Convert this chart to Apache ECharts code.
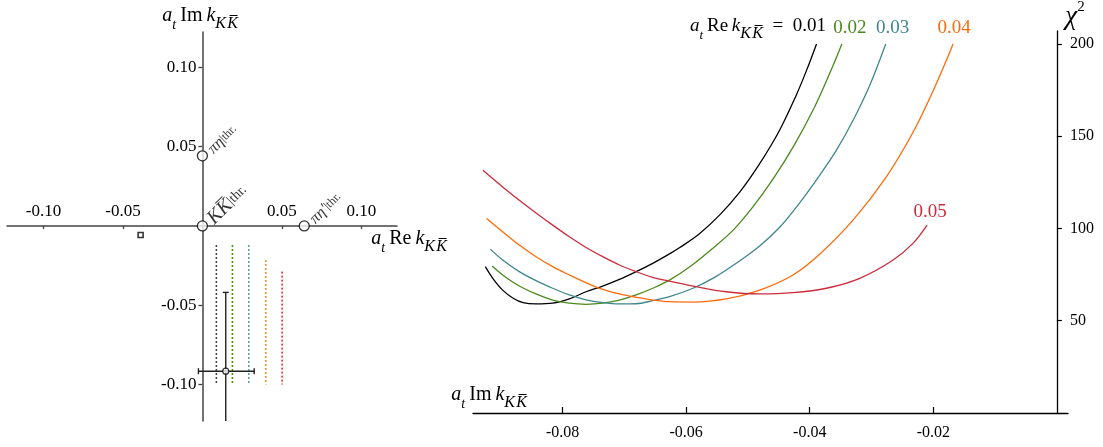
<!DOCTYPE html>
<html><head><meta charset="utf-8">
<script src="https://cdn.jsdelivr.net/npm/echarts@6/dist/echarts.min.js"></script>
<style>html,body{margin:0;padding:0;background:#fff}#c{width:1103px;height:447px}</style>
</head><body><div id="c"></div>
<script>
// ---------- DATA ----------
// Left panel: complex k plane
const thresholdPts = [[0, 0.0442], [0, 0], [0.0641, 0]];
const thresholdNames = ['πη', 'KK\u0305', 'πη′'];
const virtualPt = [[-0.0389, -0.0057]];
const polePt = [0.0147, -0.0916];
const poleErrX = [-0.0025, 0.0326];
const poleErrY = [-0.123, -0.0419];
const reScanX = [0.0088, 0.0189, 0.0292, 0.0399, 0.0502];
const reScanTop = [-0.012, -0.012, -0.012, -0.0215, -0.0288];
const reScanBottom = -0.100;
const leftTicks = [-0.10, -0.05, 0.05, 0.10];

// Right panel: chi^2 vs a_t Im k for fixed a_t Re k
const curveNames = ['0.01', '0.02', '0.03', '0.04', '0.05'];
const chi001 = [[-0.0925,79.3],[-0.0913,73.0],[-0.0897,66.6],[-0.0880,62.2],[-0.0864,59.8],[-0.0843,59.1],[-0.0816,59.5],[-0.0789,61.8],[-0.0762,65.7],[-0.0735,68.8],[-0.0708,72.4],[-0.0681,76.6],[-0.0654,81.1],[-0.0627,86.2],[-0.0611,89.5],[-0.0578,97.3],[-0.0546,107.2],[-0.0513,119.8],[-0.0481,135.1],[-0.0449,153.1],[-0.0422,172.1],[-0.0405,185.8],[-0.0389,200.0]];
const chi002 = [[-0.0914,79.6],[-0.0897,74.8],[-0.0870,68.8],[-0.0843,64.5],[-0.0816,61.2],[-0.0789,59.5],[-0.0762,58.9],[-0.0735,59.5],[-0.0708,61.2],[-0.0681,64.0],[-0.0654,67.6],[-0.0627,72.0],[-0.0589,80.5],[-0.0557,89.2],[-0.0524,99.1],[-0.0492,111.7],[-0.0459,127.0],[-0.0427,144.1],[-0.0395,163.9],[-0.0368,183.8],[-0.0348,200.0]];
const chi003 = [[-0.0917,88.8],[-0.0897,82.9],[-0.0870,76.6],[-0.0843,71.7],[-0.0816,67.6],[-0.0789,64.0],[-0.0762,61.3],[-0.0735,59.8],[-0.0708,59.1],[-0.0681,59.2],[-0.0654,60.9],[-0.0627,63.0],[-0.0589,67.6],[-0.0554,73.5],[-0.0519,81.1],[-0.0481,90.5],[-0.0449,100.5],[-0.0416,114.0],[-0.0384,128.8],[-0.0357,142.3],[-0.0330,158.5],[-0.0303,177.5],[-0.0277,200.0]];
const chi004 = [[-0.0923,105.4],[-0.0897,98.2],[-0.0870,91.0],[-0.0843,84.7],[-0.0816,79.3],[-0.0789,74.8],[-0.0762,70.6],[-0.0735,67.0],[-0.0708,64.5],[-0.0681,62.7],[-0.0654,61.2],[-0.0627,60.3],[-0.0589,60.1],[-0.0535,61.8],[-0.0481,66.6],[-0.0427,74.8],[-0.0384,86.0],[-0.0330,104.5],[-0.0276,128.0],[-0.0233,152.0],[-0.0200,174.8],[-0.0179,191.0],[-0.0168,200.0]];
const chi005 = [[-0.0929,131.5],[-0.0897,122.5],[-0.0870,115.3],[-0.0843,108.4],[-0.0816,101.8],[-0.0789,95.5],[-0.0762,89.7],[-0.0735,84.7],[-0.0708,80.2],[-0.0681,76.6],[-0.0654,73.5],[-0.0627,71.4],[-0.0589,68.8],[-0.0535,65.7],[-0.0481,64.5],[-0.0427,65.2],[-0.0373,67.6],[-0.0319,73.0],[-0.0265,82.9],[-0.0233,91.9],[-0.0210,101.8]];
const rightXTicks = [-0.08, -0.06, -0.04, -0.02];
const rightYTicks = [50, 100, 150, 200];

// ---------- LAYOUT ----------
const L = {left: 7, top: 32, width: 390, height: 389, xMin: -0.123, xMax: 0.1225, yMin: -0.123, yMax: 0.1223};
const R = {left: 473, top: 31, width: 595, height: 382, xMin: -0.0945, xMax: 0.0018, yMin: 0, yMax: 207};
// place axes through the origin (labels follow the axis line)
const leftYOffset = -(0 - L.xMin) / (L.xMax - L.xMin) * L.width;
const leftXOffset = -(0 - L.yMin) / (L.yMax - L.yMin) * L.height;
const rightYOffset = -(R.xMax - 0) / (R.xMax - R.xMin) * R.width;

// ---------- STYLE ----------
const SERIF = '"Liberation Serif", "DejaVu Serif", serif';
const colors = ['#000000', '#4a8a1c', '#3d878c', '#ff6a0a', '#cc2b3b'];
const dotColors = ['#444444', '#3a9a08', '#5a9ea2', '#ff8a30', '#e03040'];
const curves = [chi001, chi002, chi003, chi004, chi005];

function mathRich(fs, sub, subK, lh) {
  return {
    a: {fontFamily: SERIF, fontStyle: 'italic', fontSize: fs, color: '#000', verticalAlign: 'top', lineHeight: fs + 3},
    r: {fontFamily: SERIF, fontSize: fs, color: '#000', verticalAlign: 'top', lineHeight: fs + 3},
    s: {fontFamily: SERIF, fontStyle: 'italic', fontSize: sub, color: '#000', verticalAlign: 'bottom', lineHeight: sub + 1},
    sk: {fontFamily: SERIF, fontStyle: 'italic', fontSize: subK, color: '#000', verticalAlign: 'bottom', lineHeight: subK + 1},
    sp: {fontFamily: SERIF, fontSize: fs, verticalAlign: 'bottom', lineHeight: lh}
  };
}
const rich = mathRich(20, 14, 16, 26);
const KK = 'K\u200aK\u0305';
const titleIm = '{a|a}{s|t}{r|\u2009Im\u2009}{a|k}{sk|' + KK + '}{sp|\u200a}';
const titleRe = '{a|a}{s|t}{r|\u2009Re\u2009}{a|k}{sk|' + KK + '}{sp|\u200a}';

const chart = echarts.init(document.getElementById('c'), null, {renderer: 'canvas'});

const fmt2 = v => (v < 0 ? '-' : '') + Math.abs(v).toFixed(2);

const series = [];
// dotted scan lines
reScanX.forEach((x, i) => {
  series.push({type: 'line', xAxisIndex: 0, yAxisIndex: 0, data: [[x, reScanTop[i]], [x, reScanBottom]],
    showSymbol: false, silent: true, lineStyle: {color: dotColors[i], width: 1.6, type: [2, 2]}, z: 2});
});
// error bars
series.push({type: 'custom', xAxisIndex: 0, yAxisIndex: 0, clip: true, z: 3,
  data: [[polePt[0], polePt[1], poleErrX[0], poleErrX[1], poleErrY[0], poleErrY[1]]],
  renderItem: function (params, api) {
    const x = api.value(0), y = api.value(1);
    const pl = api.coord([api.value(2), y]), ph = api.coord([api.value(3), y]);
    const pb = api.coord([x, api.value(4)]), pt = api.coord([x, api.value(5)]);
    const st = {stroke: '#222', lineWidth: 1.4};
    const cap = 3;
    const Ln = (x1, y1, x2, y2) => ({type: 'line', shape: {x1, y1, x2, y2}, style: st});
    return {type: 'group', children: [
      Ln(pl[0], pl[1], ph[0], ph[1]), Ln(pl[0], pl[1]-cap, pl[0], pl[1]+cap), Ln(ph[0], ph[1]-cap, ph[0], ph[1]+cap),
      Ln(pb[0], pb[1], pt[0], pt[1]), Ln(pt[0]-cap, pt[1], pt[0]+cap, pt[1])
    ]};
  }
});
series.push({type: 'scatter', xAxisIndex: 0, yAxisIndex: 0, data: [polePt], symbol: 'circle', symbolSize: 6,
  itemStyle: {color: '#fff', borderColor: '#000', borderWidth: 1.2}, z: 5});
series.push({type: 'scatter', xAxisIndex: 0, yAxisIndex: 0, data: virtualPt, symbol: 'rect', symbolSize: 5,
  itemStyle: {color: '#fff', borderColor: '#000', borderWidth: 1.6}, z: 5});
// thresholds
series.push({type: 'scatter', xAxisIndex: 0, yAxisIndex: 0, z: 6,
  data: thresholdPts.map((p, i) => ({value: p, name: thresholdNames[i]})),
  symbol: 'circle', symbolSize: 10,
  itemStyle: {color: '#fff', borderColor: '#000', borderWidth: 1.3},
  label: {show: true, position: 'inside', align: 'left', verticalAlign: 'middle', rotate: 45,
    padding: [5, 0, 0, 9],
    formatter: p => (p.dataIndex === 1 ? '{k|' + p.name + '}{t2||thr.}' : '{p|' + p.name + '}{t||thr.}'),
    rich: {
      p: {fontFamily: SERIF, fontStyle: 'italic', fontSize: 16, color: '#000'},
      k: {fontFamily: SERIF, fontStyle: 'italic', fontSize: 20, color: '#000'},
      t: {fontFamily: SERIF, fontSize: 12, color: '#000'},
      t2: {fontFamily: SERIF, fontSize: 14, color: '#000'}
    }}
});
// chi^2 curves
const labelOffsets = [[3, -2], [0, -6], [-1, -6], [-7, -6], [-5, -4]];
curves.forEach((d, i) => {
  series.push({type: 'line', xAxisIndex: 1, yAxisIndex: 1, data: d, smooth: 0.35, showSymbol: false,
    lineStyle: {color: colors[i], width: 1.3}, z: 3,
    endLabel: {show: true, color: colors[i], fontFamily: SERIF, fontSize: 19,
      align: i === 0 ? 'right' : 'center', verticalAlign: 'bottom', offset: labelOffsets[i],
      formatter: i === 0 ? '{a|a}{s|t}{r|\u2009Re\u2009}{a|k}{sk|' + KK + '}{r|\u2002=\u20020.01}{sp|\u200a}' : curveNames[i],
      rich: i === 0 ? mathRich(19, 13, 16, 25) : undefined}
  });
});

const option = {
  animation: false,
  backgroundColor: '#fff',
  grid: [
    {left: L.left, top: L.top, width: L.width, height: L.height, containLabel: false, outerBoundsMode: 'none'},
    {left: R.left, top: R.top, width: R.width, height: R.height, containLabel: false, outerBoundsMode: 'none'}
  ],
  xAxis: [
    {type: 'value', gridIndex: 0, min: L.xMin, max: L.xMax, splitLine: {show: false}, offset: leftXOffset,
      axisLine: {onZero: false, lineStyle: {color: '#444', width: 1.5}},
      axisTick: {show: true, customValues: leftTicks, length: 3, lineStyle: {color: '#444', width: 1.3}},
      axisLabel: {inside: true, customValues: leftTicks, margin: 6, formatter: fmt2, fontFamily: SERIF, fontSize: 17, color: '#000'}},
    {type: 'value', gridIndex: 1, min: R.xMin, max: R.xMax, splitLine: {show: false},
      axisLine: {onZero: false, lineStyle: {color: '#000', width: 1.3}},
      axisTick: {show: true, inside: true, customValues: rightXTicks, length: 6, lineStyle: {color: '#000', width: 1.2}},
      axisLabel: {customValues: rightXTicks, margin: 12, formatter: fmt2, fontFamily: SERIF, fontSize: 16, color: '#000'}}
  ],
  yAxis: [
    {type: 'value', gridIndex: 0, min: L.yMin, max: L.yMax, splitLine: {show: false}, offset: leftYOffset,
      axisLine: {show: true, onZero: false, lineStyle: {color: '#444', width: 1.5}},
      axisTick: {show: true, customValues: leftTicks, length: 4, lineStyle: {color: '#444', width: 1.3}},
      axisLabel: {customValues: leftTicks, margin: 6, formatter: fmt2, fontFamily: SERIF, fontSize: 17, color: '#000'}},
    {type: 'value', gridIndex: 1, position: 'right', min: R.yMin, max: R.yMax, splitLine: {show: false}, offset: rightYOffset,
      axisLine: {show: true, onZero: false, lineStyle: {color: '#000', width: 1.3}},
      axisTick: {show: true, customValues: rightYTicks, length: 5, lineStyle: {color: '#000', width: 1.2}},
      axisLabel: {customValues: rightYTicks, margin: 13, fontFamily: SERIF, fontSize: 16, color: '#000'}}
  ],
  graphic: [
    {type: 'text', x: 201, y: 6, style: {text: titleIm, rich, align: 'center', textAlign: 'center'}},
    {type: 'text', x: 410, y: 229, style: {text: titleRe, rich, align: 'center', textAlign: 'center'}},
    {type: 'text', x: 490, y: 385, style: {text: titleIm, rich, align: 'center', textAlign: 'center'}},
    {type: 'text', x: 1075, y: 0, style: {text: '{c|χ}{u|2}', align: 'center', textAlign: 'center',
      rich: {c: {fontFamily: SERIF, fontStyle: 'italic', fontSize: 27, color: '#000', verticalAlign: 'bottom', lineHeight: 30},
             u: {fontFamily: SERIF, fontSize: 15, color: '#000', verticalAlign: 'top', lineHeight: 30}}}}
  ],
  series
};
chart.setOption(option);
</script></body></html>
